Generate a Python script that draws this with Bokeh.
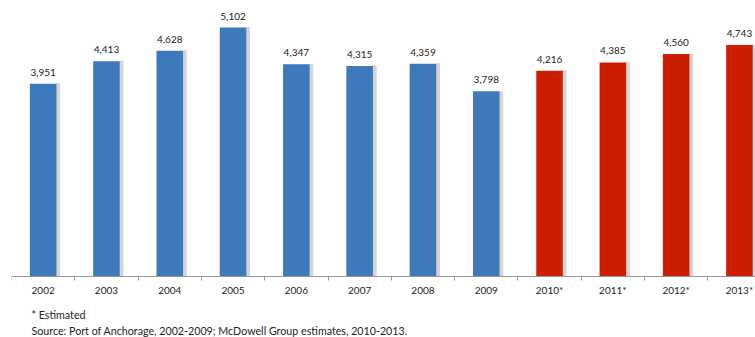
from bokeh.plotting import figure
from bokeh.models import ColumnDataSource, Label, FixedTicker, CustomJSTickFormatter, Range1d
from bokeh.core.properties import value
from bokeh.embed import file_html
from bokeh.resources import INLINE

years = ["2002", "2003", "2004", "2005", "2006", "2007", "2008", "2009",
         "2010*", "2011*", "2012*", "2013*"]
values = [3951, 4413, 4628, 5102, 4347, 4315, 4359, 3798, 4216, 4385, 4560, 4743]
estimated = [False] * 8 + [True] * 4
value_labels = ["{:,}".format(v) for v in values]
footnote = "* Estimated"
source_note = "Source: Port of Anchorage, 2002-2009; McDowell Group estimates, 2010-2013."

FONT = "Lato"
BLUE = "#3d79bb"
RED = "#cc1e00"
TXT = "#222222"

xs = [i + 0.5 for i in range(len(years))]
colors = [RED if e else BLUE for e in estimated]

src = ColumnDataSource(dict(x=xs, top=values, color=colors, label=value_labels,
                            sx=[x + 0.235 for x in xs]))

W, H = 755, 337
FRAME_LEFT = 11
BASE_Y = 276          # pixel row of the baseline
UNITS_PER_PX = 20.49
CAT_W = 63.3
p = figure(width=W, height=H, output_backend="svg", toolbar_location=None,
           x_range=Range1d(0, (W - FRAME_LEFT) / CAT_W),
           y_range=Range1d(-(H - BASE_Y) * UNITS_PER_PX, BASE_Y * UNITS_PER_PX),
           min_border_left=FRAME_LEFT, min_border_right=0, min_border_top=0,
           min_border_bottom=0)

# shadows
p.vbar(x="sx", top="top", bottom=0, width=0.05, source=src, color="#d4d4d4")
p.vbar(x="x", top="top", bottom=0, width=0.42, source=src, fill_color="color", line_color=None)

p.text(x="x", y="top", text="label", source=src, y_offset=-8,
       text_align="center", text_baseline="bottom", text_font=value(FONT),
       text_font_size="10px", text_color=TXT)

p.grid.visible = False
p.yaxis.visible = False
p.outline_line_color = None
p.background_fill_color = "white"
p.border_fill_color = "white"

xa = p.xaxis[0]
xa.fixed_location = 0
xa.ticker = FixedTicker(ticks=xs, minor_ticks=list(range(0, 13)))
xa.formatter = CustomJSTickFormatter(args=dict(labels=years),
                                     code="return labels[Math.floor(tick)];")
xa.major_tick_in = 0
xa.major_tick_out = 0
xa.minor_tick_out = 4
xa.minor_tick_in = 0
xa.axis_line_color = "#999999"
xa.minor_tick_line_color = "#999999"
xa.major_label_standoff = 3
xa.major_label_text_font = FONT
xa.major_label_text_font_size = "10px"
xa.major_label_text_color = TXT

p.add_layout(Label(x=20, y=H - 314, x_units="screen", y_units="screen", text=footnote,
                   text_font=FONT, text_font_size="10.7px", text_color=TXT,
                   text_baseline="middle"))
p.add_layout(Label(x=20, y=H - 330, x_units="screen", y_units="screen", text=source_note,
                   text_font=FONT, text_font_size="10.7px", text_color=TXT,
                   text_baseline="middle"))

open("out.html", "w").write(file_html(p, INLINE))
